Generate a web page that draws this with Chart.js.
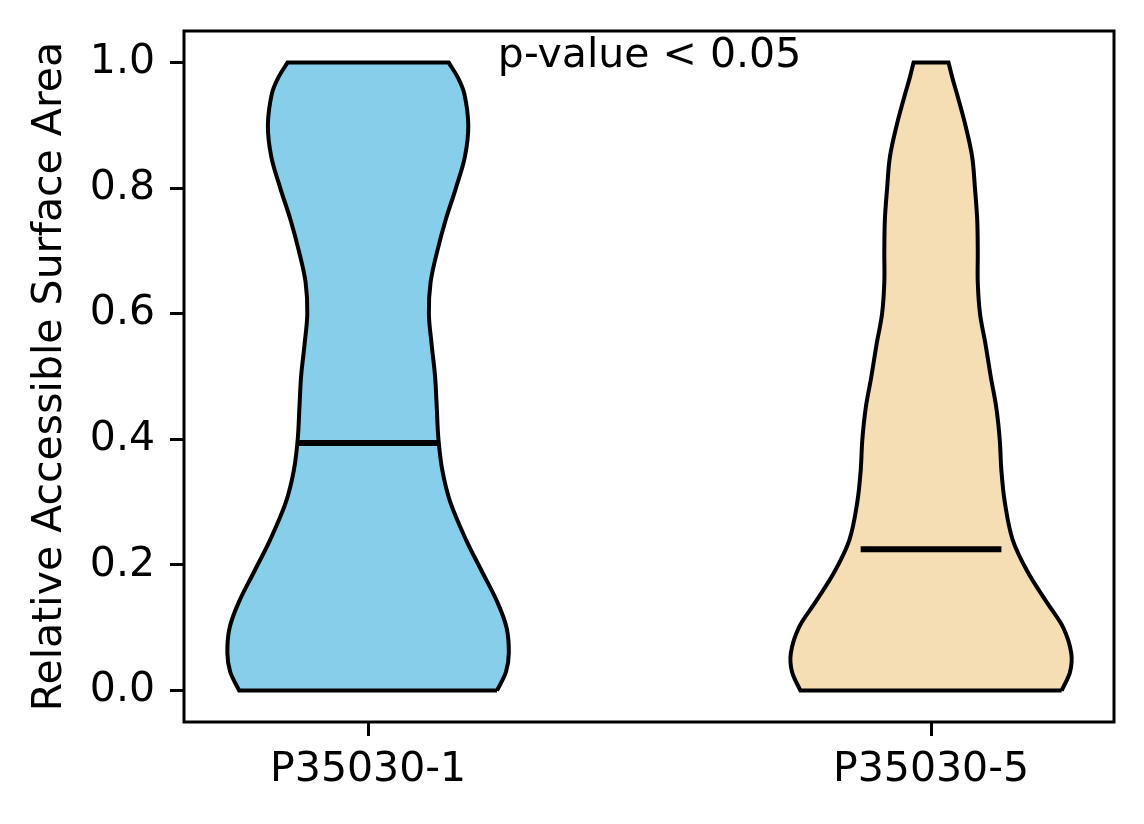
<!DOCTYPE html>
<html>
<head>
<meta charset="utf-8">
<script src="https://cdn.jsdelivr.net/npm/chart.js@4.4.1/dist/chart.umd.min.js"></script>
<style>
  html, body { margin: 0; padding: 0; background: #fff; }
  #wrap { width: 1144px; height: 824px; }
</style>
</head>
<body>
<div id="wrap"><canvas id="violin"></canvas></div>
<script>
// groups along the x axis
var groups = ['P35030-1', 'P35030-5'];
var positions = [1, 2];
var fillColors = ['#87ceeb', '#f5deb3'];

var levels = [0, 0.03, 0.06, 0.10, 0.14, 0.19, 0.24, 0.30, 0.35, 0.40, 0.45, 0.50,
              0.55, 0.60, 0.65, 0.70, 0.75, 0.80, 0.85, 0.90, 0.95, 0.975, 1.0];
var halfWidthA = [0.229, 0.245, 0.250, 0.246, 0.230, 0.202, 0.174, 0.146, 0.132, 0.125, 0.122, 0.119,
                  0.113, 0.108, 0.111, 0.123, 0.138, 0.156, 0.172, 0.178, 0.171, 0.160, 0.143];
var halfWidthB = [0.232, 0.247, 0.249, 0.235, 0.206, 0.171, 0.145, 0.131, 0.125, 0.122, 0.116, 0.106,
                  0.097, 0.087, 0.083, 0.083, 0.082, 0.078, 0.073, 0.061, 0.046, 0.038, 0.031];
var medians = [0.394, 0.225];
var medianHalf = 0.125;

var yTicks = [0, 0.2, 0.4, 0.6, 0.8, 1.0];
var note = 'p-value < 0.05';
var notePos = {x: 1.5, y: 0.993};

// closed outline: up the right side, across the top, down the left side, back along the bottom.
// corner points are doubled so the bezier smoothing keeps them sharp
function outline(center, widths) {
    var pts = [];
    var top = levels.length - 1;
    var i;
    for (i = 0; i <= top; i++) {
        pts.push({x: center + widths[i], y: levels[i]});
    }
    pts.push({x: center + widths[top], y: levels[top]});
    for (i = top; i >= 0; i--) {
        pts.push({x: center - widths[i], y: levels[i]});
        if (i === top) {
            pts.push({x: center - widths[i], y: levels[i]});
        }
    }
    pts.push({x: center - widths[0], y: levels[0]});
    pts.push({x: center + widths[0], y: levels[0]});
    return pts;
}

var widthSets = [halfWidthA, halfWidthB];
var datasets = [];
positions.forEach(function(pos, index) {
    datasets.push({
        label: groups[index] + ' median',
        data: [{x: pos - medianHalf, y: medians[index]}, {x: pos + medianHalf, y: medians[index]}],
        borderColor: '#000',
        borderWidth: 6,
        pointRadius: 0,
        fill: false,
        tension: 0,
        order: 0
    });
    datasets.push({
        label: groups[index],
        data: outline(pos, widthSets[index]),
        borderColor: '#000',
        borderWidth: 4,
        backgroundColor: fillColors[index],
        pointRadius: 0,
        fill: 'shape',
        tension: 0.35,
        order: 1
    });
});

// axes frame on all four sides plus the p-value note
var framePlugin = {
    id: 'frame',
    afterDraw: function(chart) {
        var ctx = chart.ctx;
        var a = chart.chartArea;
        ctx.save();
        ctx.strokeStyle = '#000';
        ctx.lineWidth = 3;
        ctx.strokeRect(a.left, a.top, a.right - a.left, a.bottom - a.top);
        ctx.fillStyle = '#000';
        ctx.font = '41px "DejaVu Sans"';
        ctx.textAlign = 'center';
        ctx.textBaseline = 'alphabetic';
        ctx.fillText(note, chart.scales.x.getPixelForValue(notePos.x), chart.scales.y.getPixelForValue(notePos.y));
        ctx.restore();
    }
};

Chart.defaults.font.family = '"DejaVu Sans"';
Chart.defaults.font.size = 41;
Chart.defaults.color = '#000';

var ctx = document.getElementById('violin').getContext('2d');
var chart = new Chart(ctx, {
    type: 'line',
    data: {datasets: datasets},
    options: {
        responsive: true,
        maintainAspectRatio: false,
        animation: false,
        events: [],
        layout: {padding: {top: 31, right: 30, left: 0, bottom: 0}},
        plugins: {legend: {display: false}, tooltip: {enabled: false}},
        scales: {
            x: {
                type: 'linear',
                min: 0.673,
                max: 2.325,
                afterBuildTicks: function(axis) {
                    axis.ticks = positions.map(function(v) { return {value: v}; });
                },
                afterFit: function(axis) {
                    axis.height = 102;
                    axis.paddingLeft = 0;
                    axis.paddingRight = 0;
                },
                ticks: {
                    padding: 10,
                    callback: function(value) { return groups[positions.indexOf(value)]; }
                },
                grid: {drawOnChartArea: false, drawTicks: true, tickLength: 14, tickWidth: 3, tickColor: '#000'},
                border: {display: false}
            },
            y: {
                type: 'linear',
                min: -0.05,
                max: 1.05,
                afterBuildTicks: function(axis) {
                    axis.ticks = yTicks.map(function(v) { return {value: v}; });
                },
                afterFit: function(axis) {
                    axis.width = 184;
                    axis.paddingTop = 0;
                    axis.paddingBottom = 0;
                },
                ticks: {
                    padding: 15,
                    callback: function(value) { return value.toFixed(1); }
                },
                title: {
                    display: true,
                    text: 'Relative Accessible Surface Area',
                    padding: {top: 26, bottom: 0}
                },
                grid: {drawOnChartArea: false, drawTicks: true, tickLength: 14, tickWidth: 3, tickColor: '#000'},
                border: {display: false}
            }
        }
    },
    plugins: [framePlugin]
});
</script>
</body>
</html>
